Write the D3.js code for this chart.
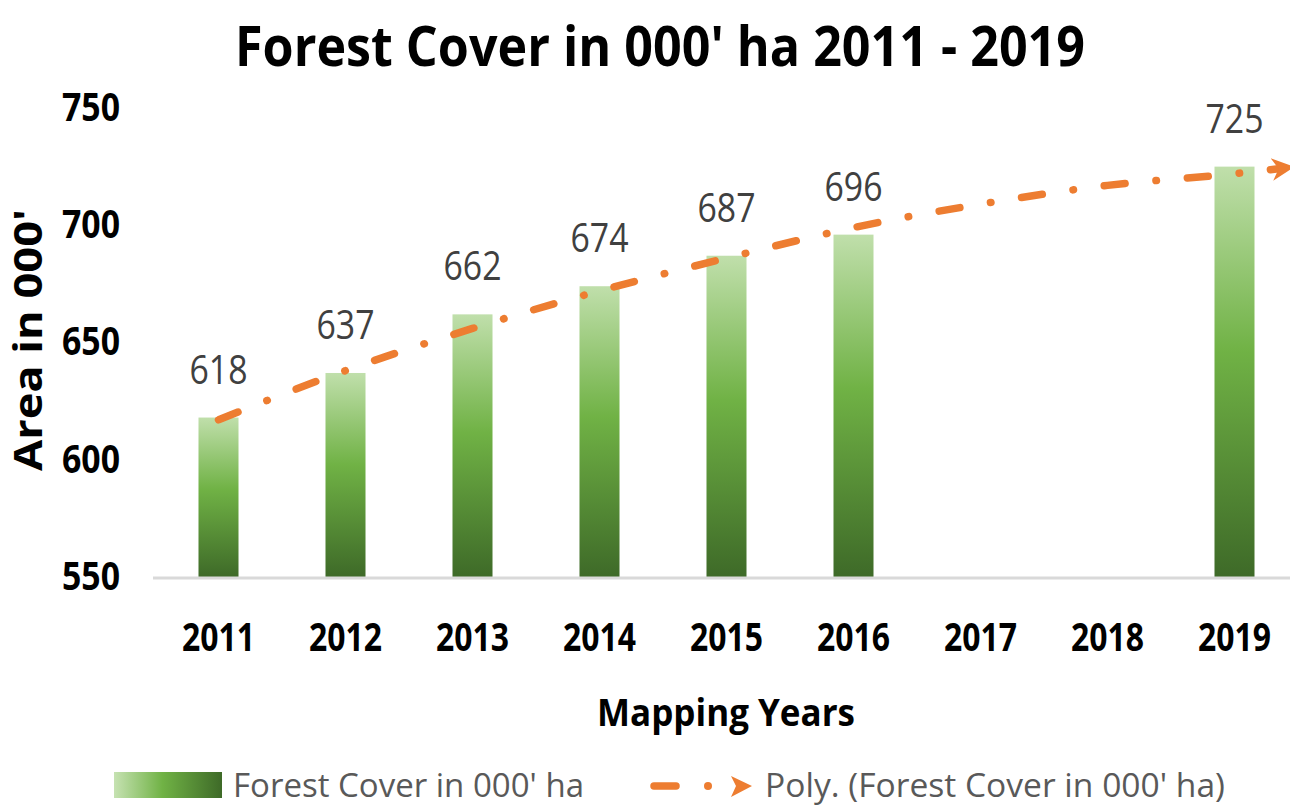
<!DOCTYPE html>
<html>
<head>
<meta charset="utf-8">
<script src="https://cdn.jsdelivr.net/npm/d3@7/dist/d3.min.js"></script>
<style>
  body { margin: 0; background: #fff; }
  svg text { font-family: "Open Sans", "Lato", sans-serif; }
</style>
</head>
<body>
<div id="chart"></div>
<script>
// data
var years = [2011, 2012, 2013, 2014, 2015, 2016, 2017, 2018, 2019];
var cover = [618, 637, 662, 674, 687, 696, null, null, 725];
// trend line (poly) values read at each year, plus the forward end
var trendYears = [2011, 2012, 2013, 2014, 2015, 2016, 2017, 2018, 2019, 2019.33];
var trendValues = [617, 638, 656, 672, 686, 699, 709, 717, 722, 724];
var yTicks = [550, 600, 650, 700, 750];

var svgWidth = 1290;
var svgHeight = 806;

var margin = { top: 108, right: -8, bottom: 229, left: 155 };
var width = svgWidth - margin.left - margin.right;
var height = svgHeight - margin.top - margin.bottom;

var orange = "#ed7d31";

var svg = d3.select("#chart")
  .append("svg")
  .attr("width", svgWidth)
  .attr("height", svgHeight);

var defs = svg.append("defs");

// bar gradient, light on top to dark at base
var barGrad = defs.append("linearGradient")
  .attr("id", "barGrad")
  .attr("x1", 0).attr("y1", 0).attr("x2", 0).attr("y2", 1);
barGrad.append("stop").attr("offset", "0%").attr("stop-color", "#c0dfab");
barGrad.append("stop").attr("offset", "45%").attr("stop-color", "#70b245");
barGrad.append("stop").attr("offset", "100%").attr("stop-color", "#3e6a28");

var legGrad = defs.append("linearGradient")
  .attr("id", "legGrad")
  .attr("x1", 0).attr("y1", 0).attr("x2", 1).attr("y2", 0);
legGrad.append("stop").attr("offset", "0%").attr("stop-color", "#c6e2b2");
legGrad.append("stop").attr("offset", "45%").attr("stop-color", "#70b245");
legGrad.append("stop").attr("offset", "100%").attr("stop-color", "#3e6a28");

// arrow head for the trend
defs.append("marker")
  .attr("id", "arrow")
  .attr("viewBox", "0 0 10 10")
  .attr("refX", 2).attr("refY", 5)
  .attr("markerWidth", 3.0).attr("markerHeight", 3.7)
  .attr("orient", "auto")
  .attr("markerUnits", "strokeWidth")
  .append("path")
  .attr("d", "M0,0 L10,5 L0,10 L3,5 Z")
  .attr("fill", orange);

var chartGroup = svg.append("g")
  .attr("transform", `translate(${margin.left}, ${margin.top})`);

// scales
var xScale = d3.scaleBand()
  .domain(years)
  .range([0, width])
  .paddingInner(0.685)
  .paddingOuter(0.3425);

var yScale = d3.scaleLinear()
  .domain([550, 750])
  .range([height, 0]);

var xCenter = d3.scaleLinear()
  .domain([years[0], years[years.length - 1]])
  .range([xScale(years[0]) + xScale.bandwidth() / 2,
          xScale(years[years.length - 1]) + xScale.bandwidth() / 2]);

// title
svg.append("text")
  .attr("x", 660)
  .attr("y", 66)
  .attr("text-anchor", "middle")
  .attr("font-size", 56)
  .attr("font-weight", "bold")
  .attr("fill", "#000")
  .attr("textLength", 850)
  .attr("lengthAdjust", "spacingAndGlyphs")
  .text("Forest Cover in 000' ha 2011 - 2019");

var barData = years.map((y, i) => ({ year: y, value: cover[i] })).filter(d => d.value != null);

// bars
chartGroup.selectAll("rect.bar")
  .data(barData)
  .enter()
  .append("rect")
  .attr("class", "bar")
  .attr("x", d => xScale(d.year))
  .attr("y", d => yScale(d.value))
  .attr("width", xScale.bandwidth())
  .attr("height", d => height - yScale(d.value))
  .attr("fill", "url(#barGrad)");

// baseline
chartGroup.append("line")
  .attr("x1", -2).attr("x2", width)
  .attr("y1", height + 1).attr("y2", height + 1)
  .attr("stroke", "#d9d9d9")
  .attr("stroke-width", 3);

// trend line
var trendLine = d3.line()
  .x(d => xCenter(d[0]))
  .y(d => yScale(d[1]))
  .curve(d3.curveMonotoneX);

chartGroup.append("path")
  .datum(trendYears.map((y, i) => [y, trendValues[i]]))
  .attr("d", trendLine)
  .attr("fill", "none")
  .attr("stroke", orange)
  .attr("stroke-width", 7.5)
  .attr("stroke-linecap", "round")
  .attr("stroke-dasharray", "21,31,0.5,31")
  .attr("marker-end", "url(#arrow)");

// data labels
chartGroup.selectAll("text.lbl")
  .data(barData)
  .enter()
  .append("text")
  .attr("class", "lbl")
  .attr("x", d => xScale(d.year) + xScale.bandwidth() / 2)
  .attr("y", d => yScale(d.value) - 34)
  .attr("text-anchor", "middle")
  .attr("font-size", 41)
  .attr("fill", "#404040")
  .attr("textLength", 58)
  .attr("lengthAdjust", "spacingAndGlyphs")
  .text(d => d.value);

// axes
var bottomAxis = d3.axisBottom(xScale).tickSize(0).tickPadding(46);
var leftAxis = d3.axisLeft(yScale).tickValues(yTicks).tickSize(0).tickPadding(35);

var xAxisG = chartGroup.append("g")
  .attr("transform", `translate(0, ${height})`)
  .call(bottomAxis);
xAxisG.select(".domain").remove();
xAxisG.selectAll("text")
  .attr("font-size", 39)
  .attr("font-weight", "bold")
  .attr("fill", "#000")
  .attr("dy", "0.71em")
  .attr("textLength", 73)
  .attr("lengthAdjust", "spacingAndGlyphs");

var yAxisG = chartGroup.append("g")
  .call(leftAxis);
yAxisG.select(".domain").remove();
yAxisG.selectAll("text")
  .attr("font-size", 39)
  .attr("font-weight", "bold")
  .attr("fill", "#000")
  .attr("textLength", 58)
  .attr("lengthAdjust", "spacingAndGlyphs");

// axis titles
svg.append("text")
  .attr("transform", "rotate(-90)")
  .attr("x", -340)
  .attr("y", 42)
  .attr("text-anchor", "middle")
  .attr("font-size", 40)
  .attr("font-weight", "bold")
  .attr("fill", "#000")
  .attr("textLength", 262)
  .attr("lengthAdjust", "spacingAndGlyphs")
  .text("Area in 000'");

svg.append("text")
  .attr("x", 726)
  .attr("y", 726)
  .attr("text-anchor", "middle")
  .attr("font-size", 38)
  .attr("font-weight", "bold")
  .attr("fill", "#000")
  .attr("textLength", 258)
  .attr("lengthAdjust", "spacingAndGlyphs")
  .text("Mapping Years");

// legend
var legend = svg.append("g");
legend.append("rect")
  .attr("x", 114).attr("y", 772)
  .attr("width", 108).attr("height", 26)
  .attr("fill", "url(#legGrad)");
legend.append("text")
  .attr("x", 233).attr("y", 797)
  .attr("font-size", 33)
  .attr("fill", "#595959")
  .attr("textLength", 351)
  .attr("lengthAdjust", "spacingAndGlyphs")
  .text("Forest Cover in 000' ha");

legend.append("line")
  .attr("x1", 654).attr("x2", 676)
  .attr("y1", 786).attr("y2", 786)
  .attr("stroke", orange)
  .attr("stroke-width", 7.5)
  .attr("stroke-linecap", "round");
legend.append("circle")
  .attr("cx", 708).attr("cy", 786)
  .attr("r", 4)
  .attr("fill", orange);
legend.append("path")
  .attr("d", "M731,776 L752,786 L731,797 L736,786 Z")
  .attr("fill", orange);
legend.append("text")
  .attr("x", 765).attr("y", 797)
  .attr("font-size", 33)
  .attr("fill", "#595959")
  .attr("textLength", 460)
  .attr("lengthAdjust", "spacingAndGlyphs")
  .text("Poly. (Forest Cover in 000' ha)");
</script>
</body>
</html>
